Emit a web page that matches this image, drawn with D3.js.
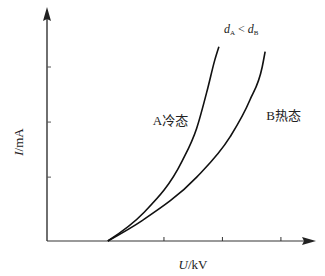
<!DOCTYPE html>
<html>
<head>
<meta charset="utf-8">
<script src="https://cdn.jsdelivr.net/npm/d3@7"></script>
<style>
  body { margin: 0; background: #fff; }
  text { font-family: "Liberation Serif", "Noto Sans CJK SC", serif; fill: #222; }
</style>
</head>
<body>
<svg id="chart" width="325" height="276"></svg>
<script>
// dati (U in kV, I in mA, scala arbitraria)
const curveA = [[1.04, 0], [1.64, 0.5], [2.31, 1.45], [2.56, 2.05], [2.75, 2.78], [2.87, 3.29], [2.94, 3.53]]
const curveB = [[1.04, 0], [1.64, 0.38], [2.56, 1.16], [3.13, 1.89], [3.47, 2.56], [3.68, 3.16], [3.73, 3.44]]
const xTickValues = [2, 3, 4]
const yTickValues = [1.16, 2.16, 3.16]
const curveLabels = [
  { text: 'A冷态', u: 1.81, i: 2.1 },
  { text: 'B热态', u: 3.75, i: 2.19 }
]

const svg = d3.select('#chart')

// assi
const x0 = 47, y0 = 241
const xScale = d3.scaleLinear().domain([0, 4.6]).range([x0, 316])
const yScale = d3.scaleLinear().domain([0, 4.25]).range([y0, 7])

// asse x (grigio)
svg.append('line')
  .attr('x1', x0).attr('y1', y0).attr('x2', 304).attr('y2', y0)
  .style('stroke', '#777').style('stroke-width', 1.6)
svg.append('path')
  .attr('d', `M316,${y0} L302,${y0 - 4} L304,${y0} L302,${y0 + 4} Z`)
  .style('fill', '#222')

// asse y
svg.append('line')
  .attr('x1', x0).attr('y1', y0).attr('x2', x0).attr('y2', 19)
  .style('stroke', '#333').style('stroke-width', 1.4)
svg.append('path')
  .attr('d', `M${x0},7 L${x0 - 4},21 L${x0},19 L${x0 + 4},21 Z`)
  .style('fill', '#222')

// tick
svg.selectAll('.xtick')
  .data(xTickValues)
  .enter()
  .append('line')
  .attr('x1', d => xScale(d)).attr('x2', d => xScale(d))
  .attr('y1', y0).attr('y2', y0 - 4)
  .style('stroke', '#333').style('stroke-width', 1)

svg.selectAll('.ytick')
  .data(yTickValues)
  .enter()
  .append('line')
  .attr('x1', x0).attr('x2', x0 + 4)
  .attr('y1', d => yScale(d)).attr('y2', d => yScale(d))
  .style('stroke', '#555').style('stroke-width', 1)

// curve
const line = d3.line()
  .x(d => xScale(d[0]))
  .y(d => yScale(d[1]))
  .curve(d3.curveMonotoneX)

svg.selectAll('.curva')
  .data([curveA, curveB])
  .enter()
  .append('path')
  .attr('d', line)
  .style('fill', 'none')
  .style('stroke', '#111')
  .style('stroke-width', 1.6)

// etichette curve
svg.selectAll('.lbl')
  .data(curveLabels)
  .enter()
  .append('text')
  .attr('x', d => xScale(d.u))
  .attr('y', d => yScale(d.i))
  .style('font-size', '13px')
  .text(d => d.text)

// d_A < d_B
const dt = svg.append('text').attr('x', 224).attr('y', 33).style('font-size', '12px')
dt.append('tspan').style('font-style', 'italic').text('d')
dt.append('tspan').attr('dy', 2).style('font-size', '7px').text('A')
dt.append('tspan').attr('dy', -2).text(' < ')
dt.append('tspan').style('font-style', 'italic').text('d')
dt.append('tspan').attr('dy', 2).style('font-size', '7px').text('B')

// etichetta asse x
const xl = svg.append('text').attr('x', 193).attr('y', 269)
  .style('text-anchor', 'middle').style('font-size', '13px')
xl.append('tspan').style('font-style', 'italic').text('U')
xl.append('tspan').text('/kV')

// etichetta asse y
const yl = svg.append('text')
  .attr('transform', 'translate(23,142) rotate(-90)')
  .style('text-anchor', 'middle').style('font-size', '13px')
yl.append('tspan').style('font-style', 'italic').text('I')
yl.append('tspan').text('/mA')
</script>
</body>
</html>
